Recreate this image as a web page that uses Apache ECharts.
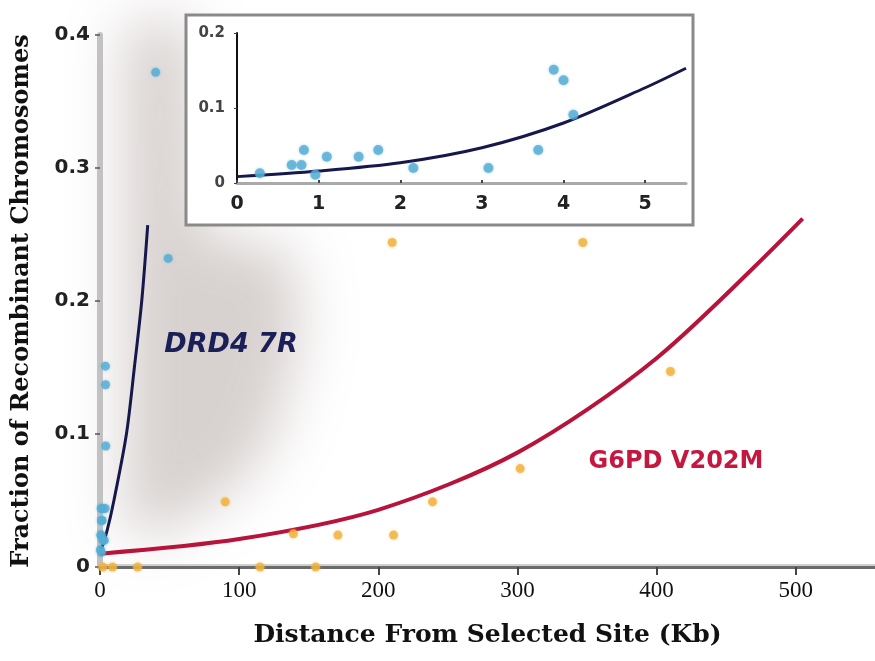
<!DOCTYPE html>
<html>
<head>
<meta charset="utf-8">
<title>Fraction of recombinant chromosomes</title>
<script src="https://cdn.jsdelivr.net/npm/echarts@6/dist/echarts.min.js"></script>
<style>
  html, body { margin: 0; padding: 0; background: #fff; }
  #chart { width: 875px; height: 661px; }
</style>
</head>
<body>
<div id="chart"></div>
<script>
// DRD4 7R observations: [distance kb, fraction recombinant]
const drd4Points = [
  [0.28, 0.013], [0.67, 0.024], [0.79, 0.024], [0.82, 0.044], [0.96, 0.011],
  [1.10, 0.035], [1.49, 0.035], [1.73, 0.044], [2.16, 0.020], [3.08, 0.020],
  [3.69, 0.044], [3.88, 0.151], [4.00, 0.137], [4.12, 0.091],
  [40, 0.372], [49, 0.232]
];
// fitted curve as drawn on the main panel
const drd4Curve = [
  [0, 0.010], [5, 0.027], [10, 0.050], [19, 0.100],
  [24.7, 0.150], [30, 0.200], [34.3, 0.257]
];
// fitted curve as drawn in the inset
const drd4InsetCurve = [
  [0, 0.0085], [1, 0.016], [2, 0.027], [3, 0.047], [4, 0.080],
  [5, 0.127], [5.5, 0.153]
];

// G6PD V202M observations
const g6pdPoints = [
  [2, 0], [9, 0], [27, 0], [115, 0], [155, 0],
  [90, 0.049], [139, 0.025], [171, 0.024], [211, 0.024], [239, 0.049],
  [302, 0.074], [210, 0.244], [347, 0.244], [410, 0.147]
];
const g6pdCurve = [
  [0, 0.010], [100, 0.021], [200, 0.043], [300, 0.086], [400, 0.157], [505, 0.262]
];

const xTicks = [0, 100, 200, 300, 400, 500];
const yTickLabels = ['0', '0.1', '0.2', '0.3', '0.4'];
const insetXTicks = [0, 1, 2, 3, 4, 5];
const insetYTickLabels = ['0', '0.1', '0.2'];

const insetMax = 5.5;
const blue = '#55acd5';
const orange = '#f1b13c';
const navy = '#16184c';
const crimson = '#b8133b';

const chart = echarts.init(document.getElementById('chart'), null, { renderer: 'canvas' });

// soft grey glow behind the DRD4 part, drawn as an offset shadow
const shadowOff = 1000;
const shadowShape = [
  [124, 22], [192, 22], [202, 235], [292, 250], [302, 330],
  [277, 430], [242, 482], [168, 532], [124, 536]
].map(p => [p[0] - shadowOff, p[1]]);

function scatter(name, data, xi, size) {
  const g6pd = name.startsWith('G6PD');
  return {
    type: 'scatter', name, data, xAxisIndex: xi, yAxisIndex: xi,
    symbolSize: size, z: 4,
    itemStyle: {
      color: g6pd ? orange : blue,
      shadowBlur: 3,
      shadowColor: g6pd ? 'rgba(241,177,60,0.6)' : 'rgba(85,172,213,0.6)'
    }
  };
}

function curve(name, data, xi, color, width) {
  return {
    type: 'line', name, data, xAxisIndex: xi, yAxisIndex: xi,
    smooth: 0.3, showSymbol: false, z: 3,
    lineStyle: { color, width }
  };
}

chart.setOption({
  animation: false,
  grid: [
    { left: 100, top: 35, width: 775, height: 532 },
    { left: 237, top: 33, width: 449, height: 150 }
  ],
  xAxis: [
    {
      type: 'value', gridIndex: 0, min: 0, max: 557, z: 2,
      name: 'Distance From Selected Site (Kb)',
      nameLocation: 'middle', nameGap: 56,
      nameTextStyle: { fontFamily: 'DejaVu Serif', fontWeight: 'bold', fontSize: 25, color: '#111' },
      axisLine: { lineStyle: { color: '#6b6b6b', width: 3, shadowColor: '#d0d0d0', shadowOffsetY: -2 } },
      axisTick: { customValues: xTicks, length: 8, lineStyle: { color: '#444', width: 2 } },
      axisLabel: {
        customValues: xTicks, margin: 12,
        fontFamily: 'Liberation Serif', fontSize: 23, color: '#111'
      },
      splitLine: { show: false }
    },
    {
      type: 'value', gridIndex: 1, min: 0, max: insetMax, z: 3,
      axisLine: { lineStyle: { color: '#aaa', width: 3 } },
      axisTick: { customValues: insetXTicks, inside: true, length: 3, lineStyle: { color: '#444', width: 2 } },
      axisLabel: {
        customValues: insetXTicks, margin: 12,
        fontFamily: 'DejaVu Sans', fontWeight: 'bold', fontSize: 19, color: '#222'
      },
      splitLine: { show: false }
    }
  ],
  yAxis: [
    {
      type: 'value', gridIndex: 0, min: 0, max: 0.4, interval: 0.1, z: 2,
      name: 'Fraction of Recombinant Chromosomes',
      nameLocation: 'middle', nameGap: 66, nameRotate: 90,
      nameTextStyle: { fontFamily: 'DejaVu Serif', fontWeight: 'bold', fontSize: 24, color: '#111' },
      axisLine: { show: true, lineStyle: { color: '#c2c2c2', width: 6 } },
      axisTick: { show: true, length: 5, lineStyle: { color: '#555', width: 1.5 } },
      axisLabel: {
        margin: 10, fontFamily: 'DejaVu Sans', fontWeight: 'bold', fontSize: 20, color: '#222',
        formatter: (v, i) => yTickLabels[i]
      },
      splitLine: { show: false }
    },
    {
      type: 'value', gridIndex: 1, min: 0, max: 0.2, interval: 0.1, z: 3,
      axisLine: { show: true, lineStyle: { color: '#111', width: 2 } },
      axisTick: { show: true, length: 3, lineStyle: { color: '#444' } },
      axisLabel: {
        margin: 12, fontFamily: 'DejaVu Sans', fontWeight: 'bold', fontSize: 15, color: '#444',
        formatter: (v, i) => insetYTickLabels[i]
      },
      splitLine: { show: false }
    }
  ],
  graphic: [
    {
      type: 'polygon', z: 0, silent: true,
      shape: { points: shadowShape },
      style: {
        fill: '#000',
        shadowBlur: 55,
        shadowColor: 'rgba(150,134,128,0.38)',
        shadowOffsetX: shadowOff
      }
    },
    {
      type: 'rect', z: 1, silent: true,
      shape: { x: 186, y: 15, width: 507, height: 210 },
      style: { fill: '#fff', stroke: '#8a8a8a', lineWidth: 3 }
    },
    {
      type: 'text', z: 5, x: 231, y: 345, silent: true,
      style: {
        text: 'DRD4 7R', align: 'center', verticalAlign: 'middle',
        font: 'italic bold 27px "DejaVu Sans"', fill: '#1b1f57'
      }
    },
    {
      type: 'text', z: 5, x: 676, y: 462, silent: true,
      style: {
        text: 'G6PD V202M', align: 'center', verticalAlign: 'middle',
        font: 'bold 24px "DejaVu Sans"', fill: '#c41840'
      }
    }
  ],
  series: [
    curve('DRD4 fit', drd4Curve, 0, navy, 3),
    curve('G6PD fit', g6pdCurve, 0, crimson, 4),
    scatter('DRD4', drd4Points, 0, 9),
    scatter('G6PD', g6pdPoints, 0, 9),
    curve('DRD4 inset fit', drd4InsetCurve, 1, navy, 3),
    scatter('DRD4 inset', drd4Points.filter(p => p[0] <= insetMax), 1, 10)
  ]
});
</script>
</body>
</html>
